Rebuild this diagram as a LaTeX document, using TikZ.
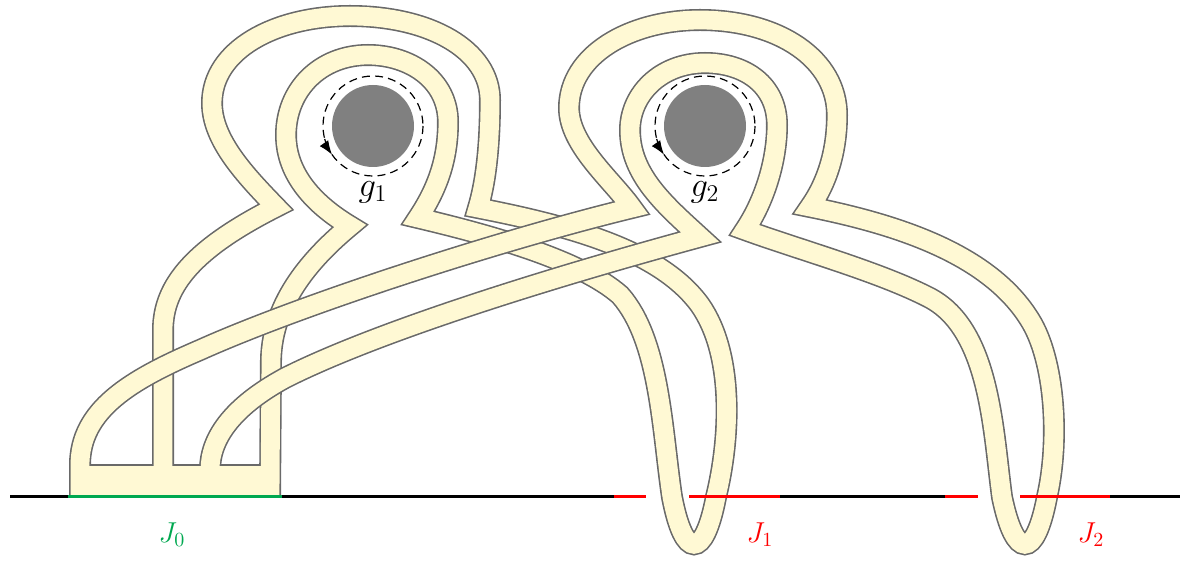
\documentclass[tikz,border=0pt]{standalone}
\usepackage{amsmath,amssymb}
\usepackage{tikz}
\usetikzlibrary{arrows.meta}
\usepackage{xcolor}
\definecolor{ribbonfill}{RGB}{255,249,212}
\definecolor{rimgray}{RGB}{105,105,105}
\definecolor{holegray}{RGB}{128,128,128}
\definecolor{jgreen}{RGB}{0,168,80}
\definecolor{jred}{RGB}{255,0,0}
\tikzset{
  ribbon/.style={draw=rimgray,line width=0.8pt,double=ribbonfill,double distance=9.4pt},
  rim/.style={draw=rimgray,line width=0.8pt},
  hole/.style={circle,fill=holegray,inner sep=0pt,minimum size=41pt},
  loopdash/.style={dash pattern=on 4pt off 2.6pt,line width=0.6pt},
  rail/.style={line width=1.5pt},
  jlabel/.style={font=\Large},
}
\begin{document}
\begin{tikzpicture}[x=0.5pt,y=-0.5pt,>={Latex[length=7pt,width=5.2pt]}]
\useasboundingbox (0,0) rectangle (1180,582);
\draw[ribbon] (163,497) -- (163,330) .. controls (163,285) and (195,248) .. (276,207)
  .. controls (245,175) and (212,140) .. (212,103)
  .. controls (212,50) and (275,16) .. (350,16)
  .. controls (430,16) and (490,50) .. (490,100)
  .. controls (490,150) and (485,185) .. (478,208)
  .. controls (570,226) and (660,250) .. (700,305)
  .. controls (735,355) and (730,440) .. (716,497)
  .. controls (704,560) and (684,560) .. (672,497)
  .. controls (662,430) and (660,340) .. (620,295)
  .. controls (580,260) and (490,235) .. (418,218)
  .. controls (440,185) and (448,155) .. (448,122)
  .. controls (448,80) and (410,55) .. (368,55)
  .. controls (320,55) and (286,90) .. (286,135)
  .. controls (286,175) and (315,205) .. (350,226)
  .. controls (315,255) and (272,300) .. (271,360) -- (270,497);
\draw[ribbon] (80,497) -- (80,465) .. controls (80,410) and (130,380) .. (200,350)
  .. controls (300,305) and (500,240) .. (632,208)
  .. controls (612,180) and (569,145) .. (569,108)
  .. controls (569,55) and (630,20) .. (700,20)
  .. controls (780,20) and (837,60) .. (837,115)
  .. controls (837,160) and (822,190) .. (810,207)
  .. controls (900,225) and (990,255) .. (1030,320)
  .. controls (1055,360) and (1060,440) .. (1047,497)
  .. controls (1035,560) and (1015,560) .. (1002,497)
  .. controls (993,430) and (990,330) .. (930,298)
  .. controls (880,272) and (800,250) .. (745,230)
  .. controls (765,200) and (777,160) .. (777,125)
  .. controls (777,85) and (745,63) .. (705,63)
  .. controls (660,63) and (630,95) .. (630,130)
  .. controls (630,175) and (665,205) .. (700,237)
  .. controls (560,275) and (380,330) .. (285,378)
  .. controls (230,408) and (210,440) .. (210,470) -- (210,497);
\fill[ribbonfill] (70.6,465.8) rectangle (279.4,497);
\draw[rim] (90.2,465) -- (152.8,465) (173.2,465) -- (199.8,465) (220.2,465) -- (259.8,465);
\node[hole] (h1) at (373,126) {};
\node[hole] (h2) at (705,126) {};
\draw[loopdash] (h1.center) circle[radius=50];
\draw[loopdash] (h2.center) circle[radius=50];
\draw[->,line width=0.6pt] (h1.center) ++(165:50) arc[start angle=165,end angle=145,radius=50];
\draw[->,line width=0.6pt] (h2.center) ++(165:50) arc[start angle=165,end angle=145,radius=50];
\node[font=\LARGE] (l1) at (373,192) {$g_1$};
\node[font=\LARGE] (l2) at (705,192) {$g_2$};
\draw[rail] (10,497) -- (68,497);
\draw[rail,jgreen] (68,497) -- (282,497);
\draw[rail] (282,497) -- (614,497);
\draw[rail,jred] (614,497) -- (646,497);
\draw[rail,jred] (689,497) -- (780,497);
\draw[rail] (780,497) -- (945,497);
\draw[rail,jred] (945,497) -- (978,497);
\draw[rail,jred] (1020,497) -- (1110,497);
\draw[rail] (1110,497) -- (1180,497);
\node[jlabel,text=jgreen] (j0) at (172,535) {$J_0$};
\node[jlabel,text=jred] (j1) at (760,535) {$J_1$};
\node[jlabel,text=jred] (j2) at (1091,535) {$J_2$};
\end{tikzpicture}
\end{document}
